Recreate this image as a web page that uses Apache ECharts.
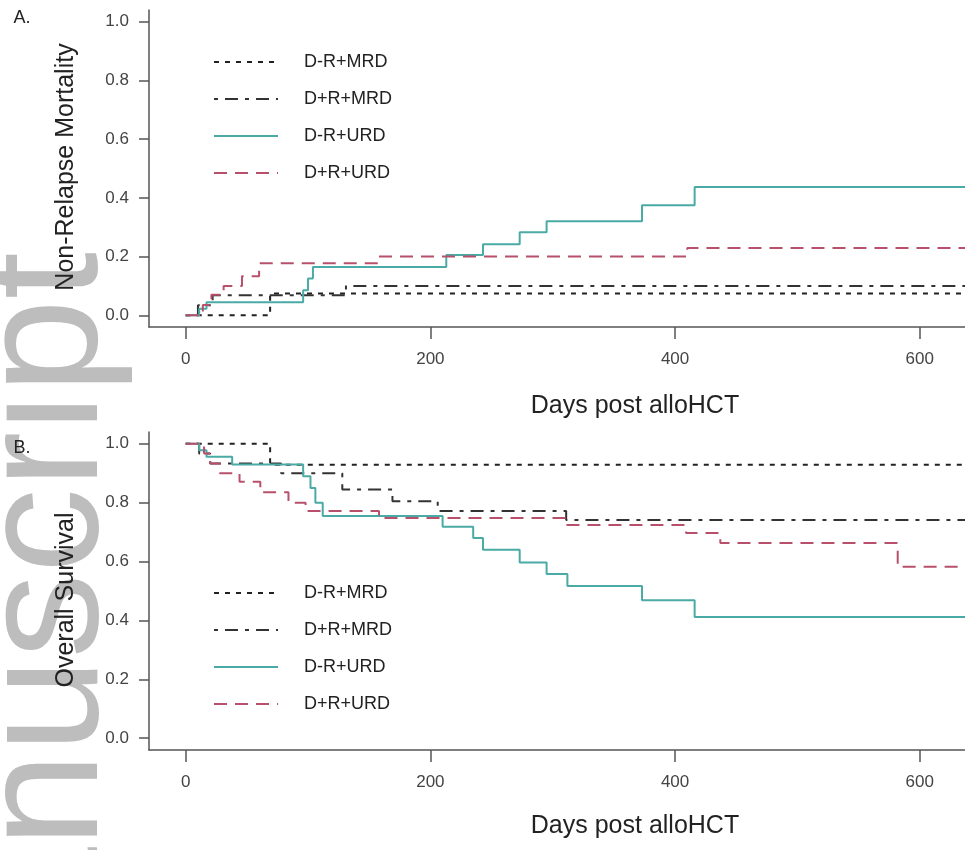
<!DOCTYPE html>
<html>
<head>
<meta charset="utf-8">
<script src="https://cdn.jsdelivr.net/npm/echarts@6/dist/echarts.min.js"></script>
<style>
  html, body { margin: 0; padding: 0; background: #fff; }
  #chart { width: 965px; height: 850px; }
</style>
</head>
<body>
<div id="chart"></div>
<script>
    // group names (legend order)
    const groups = ['D-R+MRD', 'D+R+MRD', 'D-R+URD', 'D+R+URD'];
    const dayTicks = [0, 200, 400, 600];
    const probTicks = [0, 0.2, 0.4, 0.6, 0.8, 1.0];

    // A. non-relapse mortality, [day, cumulative incidence]
    const nrmDmRMRD = [[0, 0], [69, 0.074], [760, 0.074]];
    const nrmDpRMRD = [[0, 0], [10, 0.034], [22, 0.068], [131, 0.1], [760, 0.1]];
    const nrmDmRURD = [[0, 0], [11, 0.022], [17, 0.044], [96, 0.085], [100, 0.125], [104, 0.164],
        [213, 0.205], [243, 0.242], [273, 0.283], [295, 0.32], [373, 0.375], [416, 0.437], [760, 0.437]];
    const nrmDpRURD = [[0, 0], [14, 0.035], [21, 0.07], [31, 0.1], [46, 0.133], [60, 0.177],
        [158, 0.2], [410, 0.229], [760, 0.229]];

    // B. overall survival, [day, survival]
    const osDmRMRD = [[0, 1], [69, 0.929], [760, 0.929]];
    const osDpRMRD = [[0, 1], [11, 0.967], [20, 0.933], [78, 0.9], [128, 0.845], [169, 0.805],
        [206, 0.772], [311, 0.741], [760, 0.741]];
    const osDmRURD = [[0, 1], [11, 0.978], [17, 0.956], [38, 0.93], [96, 0.89], [102, 0.85], [106, 0.8],
        [112, 0.755], [210, 0.718], [235, 0.68], [243, 0.64], [273, 0.597], [295, 0.558], [312, 0.517],
        [373, 0.469], [416, 0.412], [760, 0.412]];
    const osDpRURD = [[0, 1], [15, 0.967], [20, 0.933], [28, 0.9], [44, 0.871], [61, 0.835], [84, 0.8],
        [98, 0.772], [158, 0.748], [311, 0.724], [409, 0.697], [437, 0.663], [582, 0.582], [760, 0.582]];

    const font = 'Liberation Sans';
    const styles = [
        { color: '#222', type: [5, 6] },
        { color: '#333', type: [4, 7, 13, 7] },
        { color: '#4aaaa5', type: 'solid' },
        { color: '#b8506c', type: [13, 8] }
    ];

    function makeX(grid) {
        return {
            gridIndex: grid, type: 'value', min: -30, max: 637,
            axisLine: { show: true, onZero: false, lineStyle: { color: '#555', width: 1.5 } },
            axisTick: { show: true, customValues: dayTicks, length: 12, lineStyle: { color: '#555', width: 1.5 } },
            axisLabel: { customValues: dayTicks, margin: 24, fontSize: 17, color: '#444', fontFamily: font },
            splitLine: { show: false }
        };
    }
    function makeY(grid) {
        return {
            gridIndex: grid, type: 'value', min: -0.04, max: 1.04,
            axisLine: { show: true, onZero: false, lineStyle: { color: '#555', width: 1.5 } },
            axisTick: { show: true, customValues: probTicks, length: 10, lineStyle: { color: '#555', width: 1.5 } },
            axisLabel: { customValues: probTicks, margin: 20, fontSize: 17, color: '#444', fontFamily: font,
                formatter: v => v.toFixed(1) },
            splitLine: { show: false }
        };
    }
    function makeSeries(i, data, grid) {
        return {
            name: groups[i], type: 'line', step: 'end', data: data,
            xAxisIndex: grid, yAxisIndex: grid, symbol: 'none', silent: true,
            lineStyle: { color: styles[i].color, type: styles[i].type, width: 2 },
            itemStyle: { color: styles[i].color }
        };
    }
    function makeLegend(top) {
        return {
            data: groups, orient: 'vertical', left: 213, top: top, padding: 0,
            itemWidth: 64, itemHeight: 18, itemGap: 19, selectedMode: false,
            itemStyle: { opacity: 0 },
            textStyle: { fontSize: 18, color: '#222', fontFamily: font, padding: [0, 0, 0, 21] }
        };
    }
    function label(text, x, y, size, rot) {
        return {
            type: 'text', x: x, y: y, rotation: rot || 0, z: 10,
            style: { text: text, font: size + 'px "' + font + '"', fill: '#222', align: 'center', verticalAlign: 'middle' }
        };
    }

    const chart = echarts.init(document.getElementById('chart'));
    chart.setOption({
        backgroundColor: '#fff',
        animation: false,
        grid: [
            { left: 149, right: 0, top: 10, height: 317 },
            { left: 149, right: 0, top: 432, height: 318 }
        ],
        xAxis: [makeX(0), makeX(1)],
        yAxis: [makeY(0), makeY(1)],
        legend: [makeLegend(53), makeLegend(584)],
        graphic: [
            {
                type: 'text', x: 50, y: 252, rotation: Math.PI / 2, z: -10,
                style: { text: 'Manuscript', font: '170px "Liberation Sans"', fill: '#bdbdbd', align: 'right', verticalAlign: 'middle' }
            },
            label('A.', 22, 18, 18),
            label('B.', 22, 448, 18),
            label('Non-Relapse Mortality', 66, 167, 25, Math.PI / 2),
            label('Overall Survival', 66, 600, 25, Math.PI / 2),
            label('Days post alloHCT', 635, 406, 25),
            label('Days post alloHCT', 635, 826, 25)
        ],
        series: [
            makeSeries(0, nrmDmRMRD, 0),
            makeSeries(1, nrmDpRMRD, 0),
            makeSeries(2, nrmDmRURD, 0),
            makeSeries(3, nrmDpRURD, 0),
            makeSeries(0, osDmRMRD, 1),
            makeSeries(1, osDpRMRD, 1),
            makeSeries(2, osDmRURD, 1),
            makeSeries(3, osDpRURD, 1)
        ]
    });
</script>
</body>
</html>
